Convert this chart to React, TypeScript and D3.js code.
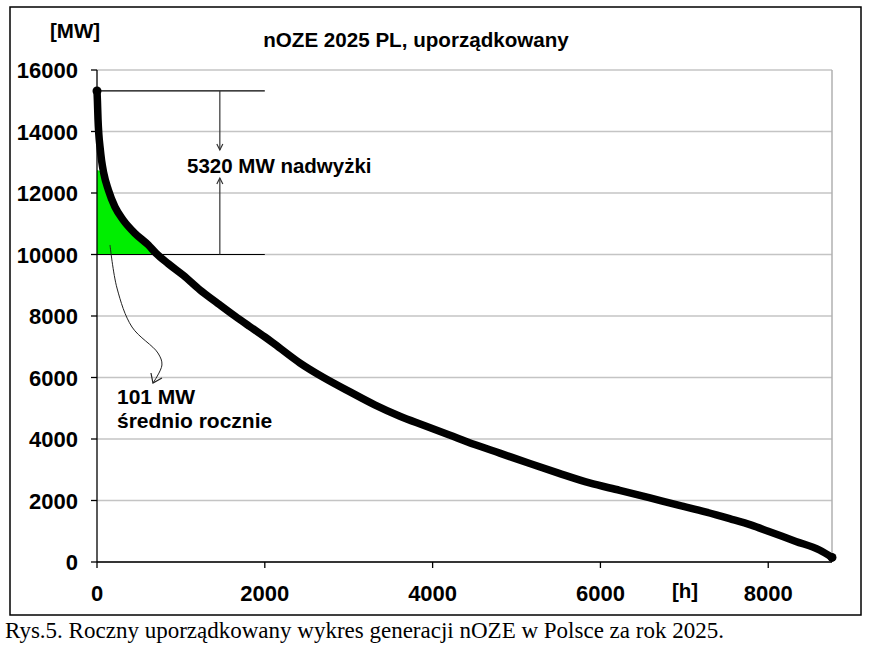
import * as d3 from "d3"

// uporządkowana krzywa generacji nOZE (godziny w roku, MW)
const hours = [
  0, 5, 12, 22, 36, 55, 80, 135, 214, 313, 452, 611, 700, 850, 1030, 1226, 1440, 1643,
  1820, 2000, 2120, 2420, 2700, 3010, 3310, 3610, 3900, 4200, 4500, 4800, 5150, 5500,
  5870, 6230, 6580, 6940, 7250, 7540, 7800, 8000, 8330, 8610, 8760,
]
const power = [
  15320, 15000, 14400, 13900, 13500, 13050, 12650, 12100, 11550, 11120, 10690, 10310,
  10050, 9700, 9320, 8850, 8410, 8000, 7660, 7320, 7080, 6470, 6000, 5540, 5110, 4740,
  4440, 4130, 3820, 3540, 3210, 2890, 2570, 2330, 2090, 1840, 1630, 1410, 1200, 1000, 670,
  390, 150,
]

// zielony obszar nadwyżki ponad 10000 MW
const surplusHours = [0, 80, 135, 214, 313, 452, 611, 690]
const surplusPower = [12750, 12650, 12100, 11550, 11120, 10690, 10310, 10000]

// strzałka do opisu "101 MW"
const pointerHours = [155, 238, 417, 726, 774, 667]
const pointerPower = [10309, 8910, 7642, 6797, 6407, 5821]

const yTicks = [0, 2000, 4000, 6000, 8000, 10000, 12000, 14000, 16000]
const xTicks = [0, 2000, 4000, 6000, 8000]

const peak = 15320
const level = 10000
const markerHour = 1464

const W = 870
const H = 652
const left = 97
const right = 832
const top = 70
const bottom = 562
const font = "'Liberation Sans', Arial, sans-serif"

export default function App() {
  const x = d3.scaleLinear().domain([0, 8760]).range([left, right])
  const y = d3.scaleLinear().domain([0, 16000]).range([bottom, top])

  const curve = hours.map((h, i) => [h, power[i]] as [number, number])
  const line = d3
    .line<[number, number]>()
    .x((d) => x(d[0]))
    .y((d) => y(d[1]))
    .curve(d3.curveMonotoneX)

  const surplus = d3
    .area<number>()
    .x((d, i) => x(surplusHours[i]))
    .y0(y(level))
    .y1((d) => y(d))
    .curve(d3.curveMonotoneX)

  const pointer = d3
    .line<number>()
    .x((d, i) => x(pointerHours[i]))
    .y((d) => y(d))
    .curve(d3.curveCatmullRom)

  const tipX = x(pointerHours[pointerHours.length - 1])
  const tipY = y(pointerPower[pointerPower.length - 1])
  const mx = x(markerHour)

  return (
    <svg
      width={W}
      height={H}
      style={{ position: "absolute", left: 0, top: 0, background: "#fff" }}
      fontFamily={font}
    >
      <rect x={10} y={7} width={851} height={608} fill="none" stroke="#000" strokeWidth={1.5} />

      {yTicks.map((t) => (
        <line key={"g" + t} x1={left} x2={right} y1={y(t)} y2={y(t)} stroke="#c4c4c4" strokeWidth={1.5} />
      ))}
      <line x1={right} x2={right} y1={top} y2={bottom} stroke="#b0b0b0" strokeWidth={1.5} />

      <path d={surplus(surplusPower) ?? ""} fill="#00ee00" />

      {/* osie */}
      <line x1={left} x2={left} y1={top} y2={bottom} stroke="#000" strokeWidth={1.3} />
      <line x1={left} x2={right} y1={bottom} y2={bottom} stroke="#000" strokeWidth={1.3} />
      {yTicks.map((t) => (
        <g key={"y" + t}>
          <line x1={left - 6} x2={left} y1={y(t)} y2={y(t)} stroke="#000" strokeWidth={1.3} />
          <text x={78} y={y(t) + 8} textAnchor="end" fontWeight="bold" fontSize={22}>
            {t}
          </text>
        </g>
      ))}
      {xTicks.map((t) => (
        <g key={"x" + t}>
          <line x1={x(t)} x2={x(t)} y1={bottom} y2={bottom + 6} stroke="#000" strokeWidth={1.3} />
          <text x={x(t)} y={601} textAnchor="middle" fontWeight="bold" fontSize={22}>
            {t}
          </text>
        </g>
      ))}

      {/* adnotacja nadwyżki */}
      <line x1={x(0)} x2={x(2000)} y1={y(peak)} y2={y(peak)} stroke="#000" strokeWidth={1.2} />
      <line x1={x(0)} x2={x(2000)} y1={y(level)} y2={y(level)} stroke="#000" strokeWidth={1.2} />
      <line x1={mx} x2={mx} y1={y(peak)} y2={150} stroke="#333" strokeWidth={1.2} />
      <path d={`M${mx - 3},${144} L${mx},${150} L${mx + 3},${144}`} fill="none" stroke="#333" strokeWidth={1.2} />
      <line x1={mx} x2={mx} y1={y(level)} y2={178} stroke="#333" strokeWidth={1.2} />
      <path d={`M${mx - 3},${184} L${mx},${178} L${mx + 3},${184}`} fill="none" stroke="#333" strokeWidth={1.2} />

      {/* krzywa */}
      <path d={line(curve) ?? ""} fill="none" stroke="#000" strokeWidth={7.5} strokeLinejoin="round" strokeLinecap="round" />
      <circle cx={x(hours[0])} cy={y(power[0])} r={4.5} fill="#000" />
      <circle cx={x(hours[hours.length - 1])} cy={y(power[power.length - 1])} r={4.5} fill="#000" />

      {/* strzałka 101 MW */}
      <path d={pointer(pointerPower) ?? ""} fill="none" stroke="#222" strokeWidth={1} />
      <path
        d={`M${tipX - 2},${tipY - 10} L${tipX},${tipY} L${tipX + 9},${tipY - 5}`}
        fill="none"
        stroke="#222"
        strokeWidth={1.2}
      />

      <text x={416} y={47} textAnchor="middle" fontWeight="bold" fontSize={20.6}>
        nOZE 2025 PL, uporządkowany
      </text>
      <text x={50} y={38} fontWeight="bold" fontSize={20.5}>
        [MW]
      </text>
      <text x={672} y={598} fontWeight="bold" fontSize={20.5}>
        [h]
      </text>
      <text x={187} y={173} fontWeight="bold" fontSize={20.5}>
        5320 MW nadwyżki
      </text>
      <text x={117} y={404} fontWeight="bold" fontSize={21}>
        101 MW
      </text>
      <text x={117} y={428} fontWeight="bold" fontSize={21}>
        średnio rocznie
      </text>

      <text x={5} y={638} fontFamily="'Liberation Serif', 'Times New Roman', serif" fontSize={23}>
        Rys.5. Roczny uporządkowany wykres generacji nOZE w Polsce za rok 2025.
      </text>
    </svg>
  )
}
